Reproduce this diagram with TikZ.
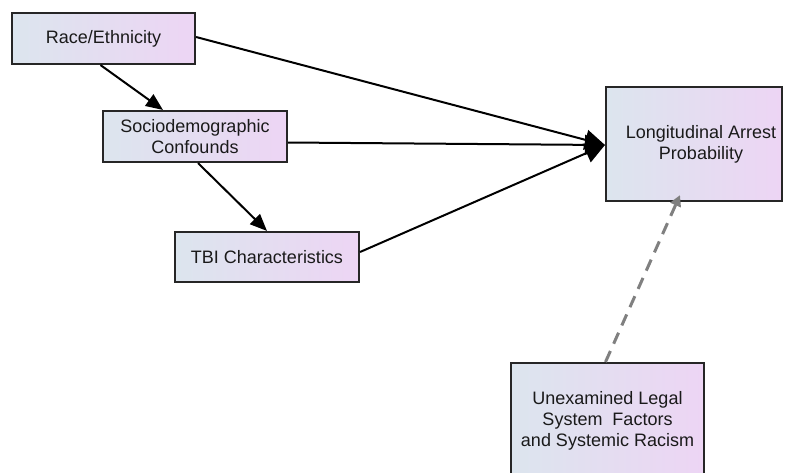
\documentclass[tikz,border=0pt]{standalone}
\usepackage{fontspec}
\setmainfont{Liberation Sans}
\usetikzlibrary{arrows.meta,calc}
\definecolor{boxleft}{HTML}{DCE5EE}
\definecolor{boxright}{HTML}{EDD5F4}
\definecolor{boxline}{HTML}{262626}
\definecolor{txt}{HTML}{1A1A1A}
\definecolor{dashgray}{HTML}{808080}
\tikzset{
  boxnode/.style={draw=boxline, line width=2.1pt, left color=boxleft, right color=boxright,
    shading angle=90, inner sep=0pt, align=center, text=txt,
    font=\fontsize{18}{21}\selectfont},
  solidarrow/.style={draw=black, line width=2pt, -{Triangle[length=17pt,width=14pt]}},
  bigarrow/.style={draw=black, line width=2pt, -{Triangle[length=20pt,width=20pt]}},
  dasharrow/.style={draw=dashgray, line width=3pt, dash pattern=on 12pt off 8pt,
    -{Triangle[length=11pt,width=11pt]}}
}
\begin{document}
\begin{tikzpicture}[x=1pt,y=-1pt]
\clip (0,0) rectangle (786,472);
\fill[white] (0,0) rectangle (786,472);
\node[boxnode, minimum width=183pt, minimum height=51pt] (race) at (103.5,38.5) {Race/Ethnicity};
\node[boxnode, minimum width=184pt, minimum height=51pt] (socio) at (195,136.5) {Sociodemographic\\Confounds};
\node[boxnode, minimum width=184pt, minimum height=50pt] (tbi) at (267,257) {TBI Characteristics};
\node[boxnode, minimum width=176pt, minimum height=114pt] (long) at (694,144) {\hspace*{14pt}Longitudinal Arrest\\\hspace*{14pt}Probability};
\node[boxnode, minimum width=193pt, minimum height=116pt] (unex) at (607.5,421) {Unexamined Legal\\System\ \ Factors\\and Systemic Racism};
\draw[bigarrow] ([yshift=1.5pt]race.east) -- ([yshift=-1pt]long.west);
\draw[bigarrow] ([yshift=-6pt]socio.east) -- ([yshift=-1pt]long.west);
\draw[bigarrow] ([yshift=5pt]tbi.east) -- ([yshift=-1pt]long.west);
\draw[solidarrow] ([xshift=-3pt]race.south) -- ([xshift=-32pt]socio.north);
\draw[solidarrow] ([xshift=3pt]socio.south) -- ([xshift=0pt]tbi.north);
\draw[dasharrow] ([xshift=-2pt]unex.north) -- ([xshift=-14pt,yshift=7pt]long.south);
\end{tikzpicture}
\end{document}
